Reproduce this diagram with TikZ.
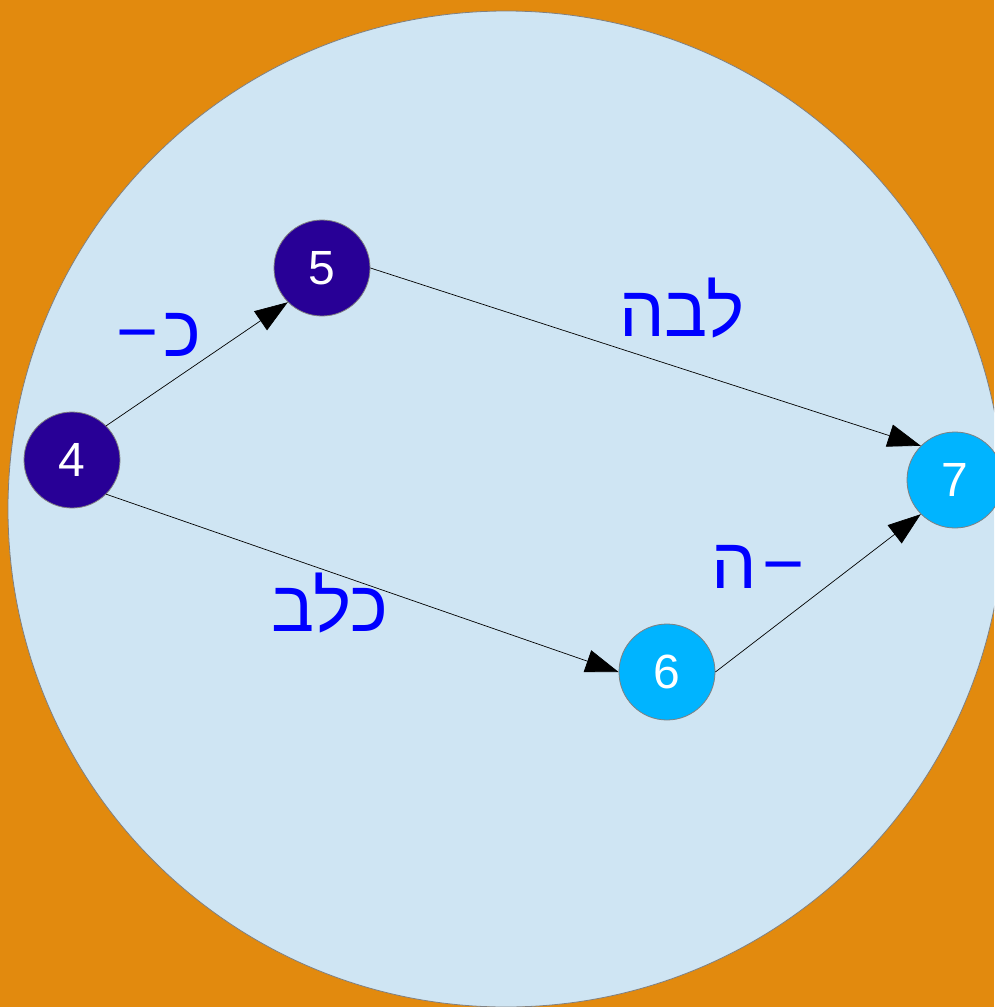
\documentclass[tikz,border=0pt]{standalone}
\usepackage{fontspec}
\setmainfont{Liberation Sans}
\newfontfamily\hebfont[Script=Hebrew]{Liberation Sans}
\TeXXeTstate=1
\usetikzlibrary{arrows.meta}
\definecolor{bgorange}{RGB}{226,138,14}
\definecolor{disc}{RGB}{207,229,243}
\definecolor{deeppurple}{RGB}{40,0,150}
\definecolor{skyblue}{RGB}{0,180,255}
\definecolor{labelblue}{RGB}{0,0,255}
\tikzset{
  state/.style={
    circle, draw=gray, line width=0.8pt,
    minimum size=96pt, inner sep=0pt,
    text=white, font=\fontsize{48}{52}\selectfont
  },
  darkstate/.style={state, fill=deeppurple},
  lightstate/.style={state, fill=skyblue},
  edgelabel/.style={
    text=labelblue, inner sep=0pt,
    font=\hebfont\fontsize{72}{80}\selectfont
  },
  arrow/.style={-{Triangle[length=33pt,width=23pt]}, line width=0.7pt}
}

\begin{document}
\begin{tikzpicture}[x=1pt, y=-1pt]
  % background and disc
  \fill[bgorange] (0,0) rectangle (994,1007);
  \useasboundingbox (0,0) rectangle (994,1007);
  \begin{scope}
    \clip (0,0) rectangle (994,1007);
    \filldraw[fill=disc, draw=gray, line width=0.8pt] (506,509) circle (498pt);
  \end{scope}

  \node[darkstate] (s4) at (72,460) {4};
  \node[darkstate] (s5) at (322,268) {5};
  \node[lightstate] (s6) at (667,672) {6};
  \node[lightstate] (s7) at (955,480) {7};

  \draw[arrow] (s4.north east) -- (s5.south west);
  \draw[arrow] (s5.east) -- (s7.north west);
  \draw[arrow] (s4.south east) -- (s6.west);
  \draw[arrow] (s6.east) -- (s7.south west);

  \node[edgelabel] (l45) at (159,335) {\beginR כ\kern5pt−\endR};
  \node[edgelabel] (l57) at (682,308) {\beginR לבה\endR};
  \node[edgelabel] (l46) at (330,603) {\beginR כלב\endR};
  \node[edgelabel] (l67) at (758,567) {\beginR −\kern5pt ה\endR};
\end{tikzpicture}
\end{document}
